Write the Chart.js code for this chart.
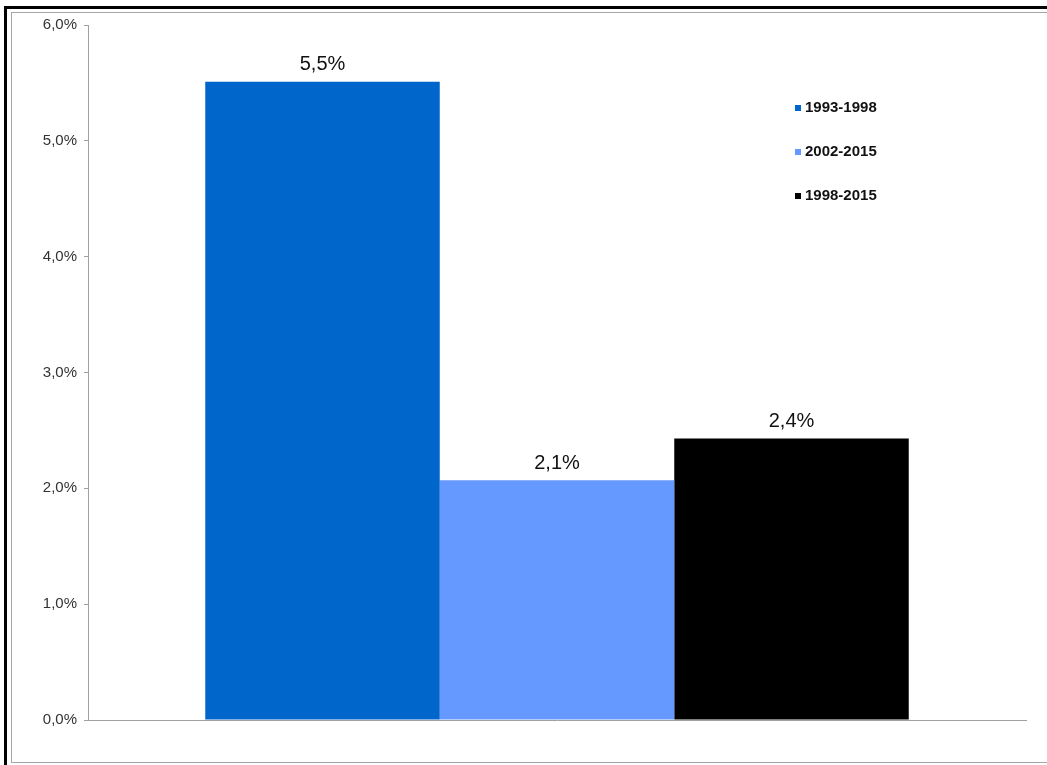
<!DOCTYPE html>
<html lang="fr">
<head>
<meta charset="utf-8">
<title>Croissance moyenne</title>
<script src="https://cdn.jsdelivr.net/npm/chart.js@4"></script>
<style>
html, body { margin: 0; padding: 0; background: #fff; overflow: hidden; }
#cadre { position: absolute; left: 4px; top: 6px; width: 1100px; height: 800px;
         border-left: 3px solid #000; border-top: 3px solid #000; }
#cadre2 { position: absolute; left: 11px; top: 12px; width: 1100px; height: 749px;
          border: 1px solid #a6a6a6; }
#graph { position: absolute; left: 0; top: 0; }
</style>
</head>
<body>
<div id="cadre"></div>
<div id="cadre2"></div>
<canvas id="graph" width="1047" height="765"></canvas>

<script>
// donnees
const categories = [''];
const periodes = ['1993-1998', '2002-2015', '1998-2015'];
const valeurs = [5.51, 2.07, 2.43];
const yTicks = [0, 1, 2, 3, 4, 5, 6];

const couleurs = ['#0066cc', '#6699ff', '#000000'];

function pourcent(v) {
  return v.toFixed(1).replace('.', ',') + '%';
}

// etiquettes au dessus des barres
const etiquettes = {
  id: 'etiquettes',
  afterDatasetsDraw(chart) {
    const ctx = chart.ctx;
    ctx.save();
    ctx.font = '20px "Liberation Sans", Arial, sans-serif';
    ctx.fillStyle = '#111';
    ctx.textAlign = 'center';
    ctx.textBaseline = 'bottom';
    chart.data.datasets.forEach(function (ds, i) {
      const bar = chart.getDatasetMeta(i).data[0];
      ctx.fillText(pourcent(ds.data[0]), bar.x, bar.y - 7);
    });
    ctx.restore();
  }
};

// legende verticale en haut a droite
const legende = {
  id: 'legende',
  afterDraw(chart) {
    const ctx = chart.ctx;
    ctx.save();
    ctx.font = 'bold 15px "Liberation Sans", Arial, sans-serif';
    ctx.textBaseline = 'middle';
    ctx.textAlign = 'left';
    chart.data.datasets.forEach(function (ds, i) {
      const y = 108 + i * 44;
      ctx.fillStyle = ds.backgroundColor;
      ctx.fillRect(795, y - 3, 6, 6);
      ctx.fillStyle = '#111';
      ctx.fillText(ds.label, 805, y);
    });
    ctx.restore();
  }
};

const datasets = periodes.map(function (p, i) {
  return {
    label: p,
    data: [valeurs[i]],
    backgroundColor: couleurs[i],
    borderWidth: 0,
    categoryPercentage: 0.75,
    barPercentage: 1
  };
});

new Chart(document.getElementById('graph'), {
  type: 'bar',
  data: { labels: categories, datasets: datasets },
  options: {
    responsive: false,
    devicePixelRatio: 1,
    animation: false,
    layout: { padding: { left: 0, right: 21, top: 25, bottom: 45 } },
    plugins: {
      legend: { display: false },
      tooltip: { enabled: false }
    },
    scales: {
      x: {
        ticks: { display: false },
        grid: { display: false },
        border: { display: true, color: '#a0a0a0', width: 1 },
        afterFit: function (s) { s.height = 0; }
      },
      y: {
        min: yTicks[0],
        max: yTicks[yTicks.length - 1],
        afterBuildTicks: function (s) {
          s.ticks = yTicks.map(function (v) { return { value: v }; });
        },
        afterFit: function (s) { s.width = 88; },
        ticks: {
          padding: 7,
          color: '#333',
          font: { family: '"Liberation Sans", Arial, sans-serif', size: 15 },
          callback: function (v) { return pourcent(v); }
        },
        grid: { drawOnChartArea: false, drawTicks: true, tickLength: 4, color: '#a0a0a0' },
        border: { display: true, color: '#a0a0a0', width: 1 }
      }
    }
  },
  plugins: [etiquettes, legende]
});
</script>
</body>
</html>
